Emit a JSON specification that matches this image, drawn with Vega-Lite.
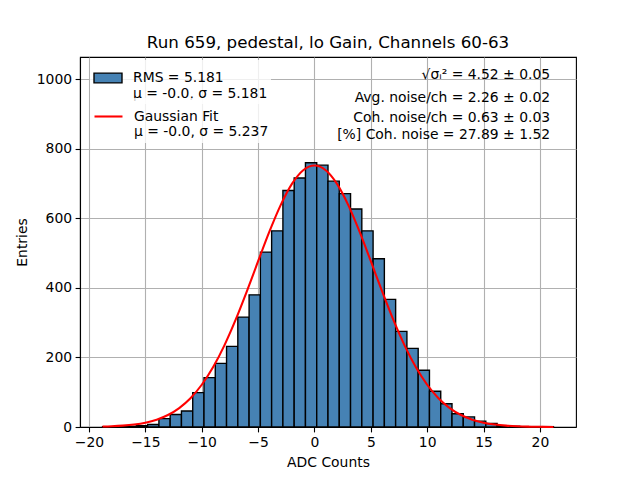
{
  "$schema": "https://vega.github.io/schema/vega-lite/v6.json",
  "autosize": "none",
  "width": 496,
  "height": 370,
  "padding": {"left": 80, "top": 57, "right": 64, "bottom": 53},
  "background": "white",
  "title": {
    "text": "Run 659, pedestal, lo Gain, Channels 60-63",
    "font": "DejaVu Sans",
    "fontSize": 16.7,
    "fontWeight": "normal",
    "color": "black",
    "anchor": "middle",
    "offset": 5
  },
  "config": {
    "view": {"stroke": "black", "strokeWidth": 1.1},
    "font": "DejaVu Sans",
    "axis": {
      "labelFont": "DejaVu Sans",
      "labelFontSize": 13.9,
      "labelColor": "black",
      "titleFont": "DejaVu Sans",
      "titleFontSize": 13.9,
      "titleFontWeight": "normal",
      "titleColor": "black",
      "domainColor": "black",
      "domainWidth": 1.1,
      "tickColor": "black",
      "tickWidth": 1.1,
      "tickSize": 4.9,
      "labelPadding": 3.5,
      "grid": true,
      "gridColor": "#b0b0b0",
      "gridWidth": 1.1,
      "zindex": 1
    },
    "legend": {
      "orient": "none",
      "padding": 3,
      "fillColor": "rgba(255,255,255,0.8)",
      "labelFont": "DejaVu Sans",
      "labelFontSize": 13.9,
      "labelColor": "black",
      "labelOffset": 10,
      "symbolSize": 784,
      "symbolOpacity": 1
    }
  },
  "datasets": {
    "hist": [
      {"lo": -18.8, "hi": -17.8, "count": 1},
      {"lo": -17.8, "hi": -16.8, "count": 1},
      {"lo": -16.8, "hi": -15.8, "count": 2},
      {"lo": -15.8, "hi": -14.8, "count": 4},
      {"lo": -14.8, "hi": -13.8, "count": 7},
      {"lo": -13.8, "hi": -12.8, "count": 24},
      {"lo": -12.8, "hi": -11.8, "count": 36},
      {"lo": -11.8, "hi": -10.8, "count": 46},
      {"lo": -10.8, "hi": -9.8, "count": 99},
      {"lo": -9.8, "hi": -8.8, "count": 142},
      {"lo": -8.8, "hi": -7.8, "count": 183},
      {"lo": -7.8, "hi": -6.8, "count": 232},
      {"lo": -6.8, "hi": -5.8, "count": 316},
      {"lo": -5.8, "hi": -4.8, "count": 380},
      {"lo": -4.8, "hi": -3.8, "count": 503},
      {"lo": -3.8, "hi": -2.8, "count": 564},
      {"lo": -2.8, "hi": -1.8, "count": 680},
      {"lo": -1.8, "hi": -0.8, "count": 716},
      {"lo": -0.8, "hi": 0.2, "count": 760},
      {"lo": 0.2, "hi": 1.2, "count": 753},
      {"lo": 1.2, "hi": 2.2, "count": 707},
      {"lo": 2.2, "hi": 3.2, "count": 671},
      {"lo": 3.2, "hi": 4.2, "count": 627},
      {"lo": 4.2, "hi": 5.2, "count": 564},
      {"lo": 5.2, "hi": 6.2, "count": 484},
      {"lo": 6.2, "hi": 7.2, "count": 367},
      {"lo": 7.2, "hi": 8.2, "count": 275},
      {"lo": 8.2, "hi": 9.2, "count": 226},
      {"lo": 9.2, "hi": 10.2, "count": 163},
      {"lo": 10.2, "hi": 11.2, "count": 103},
      {"lo": 11.2, "hi": 12.2, "count": 67},
      {"lo": 12.2, "hi": 13.2, "count": 38},
      {"lo": 13.2, "hi": 14.2, "count": 29},
      {"lo": 14.2, "hi": 15.2, "count": 17},
      {"lo": 15.2, "hi": 16.2, "count": 10},
      {"lo": 16.2, "hi": 17.2, "count": 4},
      {"lo": 17.2, "hi": 18.2, "count": 2},
      {"lo": 18.2, "hi": 19.2, "count": 1},
      {"lo": 19.2, "hi": 20.2, "count": 1},
      {"lo": 20.2, "hi": 21.2, "count": 1}
    ],
    "fit": [
      {"x": -18.8, "y": 1.2},
      {"x": -18, "y": 2.05},
      {"x": -17, "y": 3.87},
      {"x": -16, "y": 7.07},
      {"x": -15, "y": 12.4},
      {"x": -14, "y": 21.1},
      {"x": -13, "y": 34.5},
      {"x": -12, "y": 54.5},
      {"x": -11, "y": 82.8},
      {"x": -10, "y": 121.5},
      {"x": -9, "y": 171.7},
      {"x": -8, "y": 234.1},
      {"x": -7, "y": 307.8},
      {"x": -6, "y": 390.1},
      {"x": -5, "y": 476.7},
      {"x": -4, "y": 561.7},
      {"x": -3, "y": 638.2},
      {"x": -2, "y": 699.1},
      {"x": -1, "y": 738.4},
      {"x": 0, "y": 752},
      {"x": 1, "y": 738.4},
      {"x": 2, "y": 699.1},
      {"x": 3, "y": 638.2},
      {"x": 4, "y": 561.7},
      {"x": 5, "y": 476.7},
      {"x": 6, "y": 390.1},
      {"x": 7, "y": 307.8},
      {"x": 8, "y": 234.1},
      {"x": 9, "y": 171.7},
      {"x": 10, "y": 121.5},
      {"x": 11, "y": 82.8},
      {"x": 12, "y": 54.5},
      {"x": 13, "y": 34.5},
      {"x": 14, "y": 21.1},
      {"x": 15, "y": 12.4},
      {"x": 16, "y": 7.07},
      {"x": 17, "y": 3.87},
      {"x": 18, "y": 2.05},
      {"x": 19, "y": 1.04},
      {"x": 20, "y": 0.51},
      {"x": 21.2, "y": 0.21}
    ],
    "stats": [
      {"x": 20.9, "y": 1012, "label": "√σᵢ² = 4.52 ± 0.05"},
      {"x": 20.9, "y": 945, "label": "Avg. noise/ch = 2.26 ± 0.02"},
      {"x": 20.9, "y": 888, "label": "Coh. noise/ch = 0.63 ± 0.03"},
      {"x": 20.9, "y": 839, "label": "[%] Coh. noise = 27.89 ± 1.52"}
    ]
  },
  "encoding": {
    "x": {
      "type": "quantitative",
      "scale": {"domain": [-20.8, 23.2], "nice": false, "zero": false},
      "axis": {"title": "ADC Counts", "format": "d", "values": [-20, -15, -10, -5, 0, 5, 10, 15, 20], "titlePadding": 6}
    },
    "y": {
      "type": "quantitative",
      "scale": {"domain": [0, 1064], "nice": false},
      "axis": {"title": "Entries", "format": "d", "values": [0, 200, 400, 600, 800, 1000], "titlePadding": 7}
    }
  },
  "layer": [
    {
      "data": {"name": "hist"},
      "mark": {"type": "rect", "stroke": "black", "strokeWidth": 1.39},
      "encoding": {
        "x": {"field": "lo", "type": "quantitative"},
        "x2": {"field": "hi"},
        "y": {"field": "count", "type": "quantitative"},
        "y2": {"datum": 0},
        "fill": {
          "datum": "RMS",
          "type": "nominal",
          "scale": {"domain": ["RMS"], "range": ["#4682b4"]},
          "legend": {
            "title": null,
            "legendX": 10,
            "legendY": 3,
            "symbolType": "M-1,-0.35H1V0.35H-1Z",
            "symbolStrokeColor": "black",
            "symbolStrokeWidth": 1.39,
            "labelExpr": "['RMS = 5.181', 'μ = -0.0, σ = 5.181']"
          }
        }
      }
    },
    {
      "data": {"name": "fit"},
      "mark": {"type": "line", "strokeWidth": 2.08, "interpolate": "monotone"},
      "encoding": {
        "x": {"field": "x", "type": "quantitative"},
        "y": {"field": "y", "type": "quantitative"},
        "stroke": {
          "datum": "Gaussian",
          "type": "nominal",
          "scale": {"domain": ["Gaussian"], "range": ["#ff0000"]},
          "legend": {
            "title": null,
            "legendX": 10,
            "legendY": 41,
            "symbolType": "stroke",
            "symbolStrokeWidth": 2.08,
            "labelExpr": "['Gaussian Fit', 'μ = -0.0, σ = 5.237']"
          }
        }
      }
    },
    {
      "data": {"name": "stats"},
      "mark": {"type": "text", "align": "right", "baseline": "middle", "font": "DejaVu Sans", "fontSize": 13.9, "color": "black"},
      "encoding": {
        "x": {"field": "x", "type": "quantitative"},
        "y": {"field": "y", "type": "quantitative"},
        "text": {"field": "label"}
      }
    }
  ]
}
